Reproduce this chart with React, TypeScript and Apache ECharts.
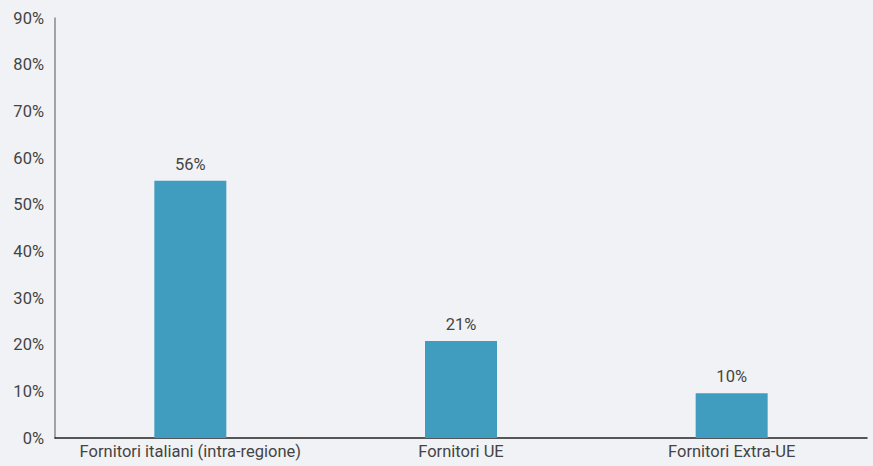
import React, { useEffect, useRef } from "react";
import * as echarts from "echarts";

const categories = ["Fornitori italiani (intra-regione)", "Fornitori UE", "Fornitori Extra-UE"];
const values = [55.1, 20.8, 9.6];
const valueLabels = ["56%", "21%", "10%"];

export default function App() {
  const ref = useRef<HTMLDivElement>(null);
  useEffect(() => {
    document.body.style.margin = "0";
    document.body.style.background = "#f1f2f5";
    const chart = echarts.init(ref.current!, null, { renderer: "svg" });
    chart.setOption({
      animation: false,
      backgroundColor: "#f1f2f5",
      textStyle: { fontFamily: "Roboto" },
      grid: { left: 55, right: 6, top: 18, bottom: 28, containLabel: false },
      xAxis: {
        type: "category",
        data: categories,
        axisLine: { lineStyle: { color: "#222", width: 1.5 } },
        axisTick: { show: false },
        axisLabel: { color: "#444", fontSize: 16.5, margin: 5, interval: 0, hideOverlap: false },
      },
      yAxis: {
        type: "value",
        min: 0,
        max: 90,
        interval: 10,
        axisLine: { show: true, lineStyle: { color: "#888", width: 1.5 } },
        axisTick: { show: false },
        splitLine: { show: false },
        axisLabel: { color: "#444", fontSize: 16.5, margin: 11, formatter: (v: number) => v + "%" },
      },
      series: [
        {
          type: "bar",
          data: values,
          barWidth: "26.6%",
          itemStyle: { color: "#419dc0" },
          label: {
            show: true,
            position: "top",
            distance: 8,
            color: "#444",
            fontSize: 16.5,
            formatter: (p: any) => valueLabels[p.dataIndex],
          },
        },
      ],
    });
    return () => chart.dispose();
  }, []);
  return <div ref={ref} style={{ width: 873, height: 466 }} />;
}
